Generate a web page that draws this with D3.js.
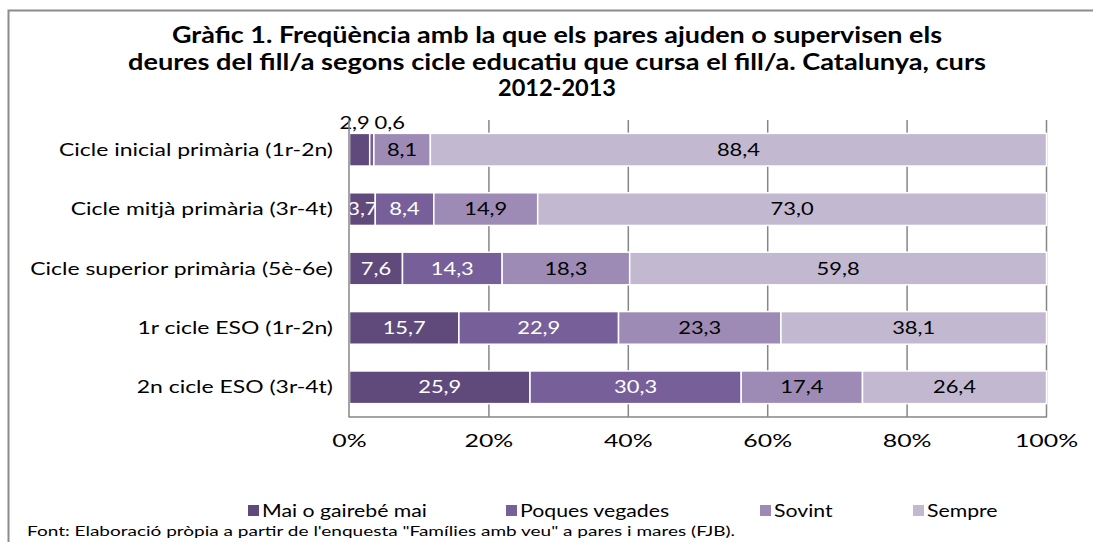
<!DOCTYPE html>
<html>
<head>
<meta charset="utf-8">
<script src="https://cdn.jsdelivr.net/npm/d3@7"></script>
<style>
  body { margin: 0; background: #fff; }
  svg { display: block; }
</style>
</head>
<body>
<script>
const categories = [
  "Cicle inicial primària (1r-2n)",
  "Cicle mitjà primària (3r-4t)",
  "Cicle superior primària (5è-6e)",
  "1r cicle ESO (1r-2n)",
  "2n cicle ESO (3r-4t)"
];
const seriesNames = ["Mai o gairebé mai", "Poques vegades", "Sovint", "Sempre"];
const maiValues = [2.9, 3.7, 7.6, 15.7, 25.9];
const poquesValues = [0.6, 8.4, 14.3, 22.9, 30.3];
const sovintValues = [8.1, 14.9, 18.3, 23.3, 17.4];
const sempreValues = [88.4, 73.0, 59.8, 38.1, 26.4];
const xTicks = [0, 20, 40, 60, 80, 100];

const width = 1093;
const height = 542;
const colors = ["#604a7b", "#775f9a", "#9e8bb5", "#c2b8d0"];
const labelColors = ["#fff", "#fff", "#000", "#000"];
const mainFont = "Lato, Carlito, sans-serif";

const rows = categories.map((c, i) => ({
  cat: c,
  [seriesNames[0]]: maiValues[i],
  [seriesNames[1]]: poquesValues[i],
  [seriesNames[2]]: sovintValues[i],
  [seriesNames[3]]: sempreValues[i]
}));

// estira el text en horitzontal (el grafic original es mes ample)
function stretch(sel, factor) {
  sel.each(function () {
    const w = this.getComputedTextLength();
    d3.select(this)
      .attr("textLength", w * factor)
      .attr("lengthAdjust", "spacingAndGlyphs");
  });
}
function fitTo(sel, target) {
  const w = sel.node().getComputedTextLength();
  stretch(sel, target / w);
}

const svg = d3.select("body").append("svg")
  .attr("width", width)
  .attr("height", height);

// marc
svg.append("rect")
  .attr("x", 8.5).attr("y", 10.5)
  .attr("width", 1100).attr("height", 560)
  .attr("fill", "#fff")
  .attr("stroke", "#8c8c8c")
  .attr("stroke-width", 2);

// titol
const titleLines = [
  "Gràfic 1. Freqüència amb la que els pares ajuden o supervisen els",
  "deures del fill/a segons cicle educatiu que cursa el fill/a. Catalunya, curs",
  "2012-2013"
];
const titleWidths = [770, 858, 118];
svg.append("g").selectAll("text")
  .data(titleLines)
  .join("text")
  .attr("x", 557)
  .attr("y", (d, i) => 43 + i * 26.5)
  .attr("text-anchor", "middle")
  .style("font-family", mainFont)
  .style("font-weight", "bold")
  .style("font-size", "22px")
  .attr("fill", "#000")
  .text(d => d)
  .each(function (d, i) { fitTo(d3.select(this), titleWidths[i]); });

const x = d3.scaleLinear().domain([0, 100]).range([349.5, 1046.5]);
const y = d3.scaleBand().domain(categories).range([120, 417]).paddingInner(0.45).paddingOuter(0.225);

// graella
svg.append("g").selectAll("line")
  .data(xTicks.slice(1))
  .join("line")
  .attr("x1", d => x(d)).attr("x2", d => x(d))
  .attr("y1", 120).attr("y2", 417)
  .attr("stroke", "#868686")
  .attr("stroke-width", 1.5);

const stacked = d3.stack().keys(seriesNames)(rows);

const layers = svg.append("g").selectAll("g")
  .data(stacked)
  .join("g")
  .attr("fill", (d, i) => colors[i]);

layers.selectAll("rect")
  .data(d => d)
  .join("rect")
  .attr("x", d => x(d[0]))
  .attr("y", d => y(d.data.cat))
  .attr("width", d => x(d[1]) - x(d[0]))
  .attr("height", y.bandwidth())
  .attr("stroke", "#fff")
  .attr("stroke-width", 1.5);

// eixos
const axisG = svg.append("g");
axisG.append("line")
  .attr("x1", 349).attr("x2", 349)
  .attr("y1", 120).attr("y2", 417)
  .attr("stroke", "#868686").attr("stroke-width", 1.5);
axisG.append("line")
  .attr("x1", 348.5).attr("x2", 1047)
  .attr("y1", 417).attr("y2", 417)
  .attr("stroke", "#868686").attr("stroke-width", 1.5);

const tickLabels = axisG.selectAll("text.tick")
  .data(xTicks)
  .join("text")
  .attr("class", "tick")
  .attr("x", d => x(d))
  .attr("y", 447)
  .attr("text-anchor", "middle")
  .style("font-family", mainFont)
  .style("font-size", "18px")
  .text(d => d + "%");
stretch(tickLabels, 1.38);

const catLabels = svg.append("g").selectAll("text")
  .data(categories)
  .join("text")
  .attr("x", 333)
  .attr("y", d => y(d) + y.bandwidth() / 2)
  .attr("dy", "0.35em")
  .attr("text-anchor", "end")
  .style("font-family", mainFont)
  .style("font-size", "17.5px")
  .text(d => d);
stretch(catLabels, 274 / catLabels.node().getComputedTextLength());

// etiquetes de valors
const fmt = v => v.toFixed(1).replace(".", ",");
layers.each(function (s, si) {
  const t = d3.select(this).selectAll("text")
    .data(s)
    .join("text")
    .attr("x", (d, i) => {
      const mid = x((d[0] + d[1]) / 2);
      if (i === 0 && si === 0) return mid - 5;
      if (i === 0 && si === 1) return mid + 18;
      return mid;
    })
    .attr("y", (d, i) => {
      if (i === 0 && si < 2) return y(d.data.cat) - 10;
      return y(d.data.cat) + y.bandwidth() / 2;
    })
    .attr("dy", "0.35em")
    .attr("text-anchor", "middle")
    .attr("fill", (d, i) => (i === 0 && si < 2) ? "#000" : labelColors[si])
    .style("font-family", mainFont)
    .style("font-size", "17.5px")
    .text(d => fmt(d[1] - d[0]));
  stretch(t, 1.25);
});

// llegenda
const legendX = [248, 506, 760, 913];
const legend = svg.append("g").selectAll("g")
  .data(seriesNames)
  .join("g")
  .attr("transform", (d, i) => `translate(${legendX[i]}, 505)`);
legend.append("rect")
  .attr("width", 11).attr("height", 11)
  .attr("fill", (d, i) => colors[i]);
const legendText = legend.append("text")
  .attr("x", 14)
  .attr("y", 11.5)
  .style("font-family", mainFont)
  .style("font-size", "17px")
  .text(d => d);
stretch(legendText, 1.25);

// font de les dades
const source = svg.append("text")
  .attr("x", 27)
  .attr("y", 536)
  .style("font-family", mainFont)
  .style("font-size", "13.5px")
  .text("Font: Elaboració pròpia a partir de l'enquesta \"Famílies amb veu\" a pares i mares (FJB).");
fitTo(source, 708);
</script>
</body>
</html>
